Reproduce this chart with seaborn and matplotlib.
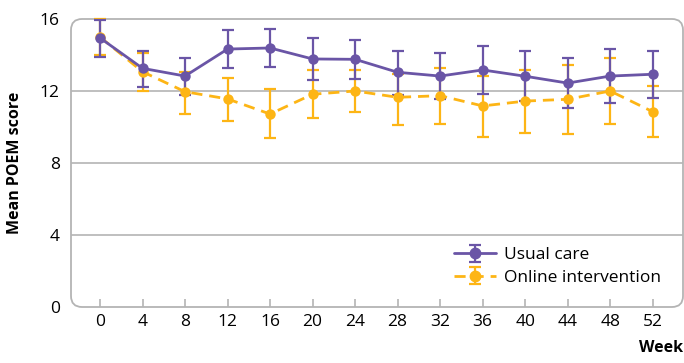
import numpy as np
import pandas as pd
import seaborn as sns
import matplotlib.pyplot as plt
from matplotlib.patches import FancyBboxPatch

weeks = [0, 4, 8, 12, 16, 20, 24, 28, 32, 36, 40, 44, 48, 52]

usual_mean = [14.95, 13.26, 12.83, 14.33, 14.39, 13.78, 13.76, 13.04, 12.83, 13.17, 12.82, 12.44, 12.83, 12.93]
usual_low = [13.9, 12.24, 11.78, 13.28, 13.33, 12.61, 12.68, 11.8, 11.57, 11.82, 11.43, 11.06, 11.35, 11.61]
usual_high = [15.94, 14.24, 13.83, 15.37, 15.46, 14.94, 14.83, 14.24, 14.13, 14.48, 14.22, 13.83, 14.35, 14.22]

online_mean = [15.0, 13.07, 11.96, 11.56, 10.72, 11.82, 12.0, 11.65, 11.74, 11.17, 11.44, 11.54, 12.0, 10.85]
online_low = [14.0, 12.02, 10.74, 10.35, 9.37, 10.48, 10.83, 10.13, 10.18, 9.46, 9.68, 9.63, 10.17, 9.43]
online_high = [16.0, 14.09, 13.06, 12.72, 12.09, 13.18, 13.15, 12.95, 13.28, 12.83, 13.17, 13.43, 13.83, 12.28]

purple = "#6a55a6"
orange = "#fdb515"
grey = "#b4b4b4"

df = pd.DataFrame({
    "week": weeks * 2,
    "score": usual_mean + online_mean,
    "group": ["Usual care"] * len(weeks) + ["Online intervention"] * len(weeks),
})

sns.set_style("white")
plt.rcParams["font.family"] = ["Open Sans", "DejaVu Sans"]
plt.rcParams["text.color"] = "black"
plt.rcParams["xtick.labelcolor"] = "black"
plt.rcParams["ytick.labelcolor"] = "black"
plt.rcParams["axes.labelcolor"] = "black"

fig = plt.figure(figsize=(6.84, 3.63), dpi=100)
ax = fig.add_axes([71 / 684, 56 / 363, 612 / 684, 288 / 363])

for y in [4, 8, 12]:
    ax.axhline(y, color=grey, lw=1.2, zorder=0)

# error bars
for mean, lo, hi, col in [(online_mean, online_low, online_high, orange),
                          (usual_mean, usual_low, usual_high, purple)]:
    m = np.array(mean)
    yerr = [m - np.array(lo), np.array(hi) - m]
    ax.errorbar(weeks, m, yerr=yerr, fmt="none", ecolor=col, elinewidth=1.6,
                capsize=4.5, capthick=1.6, clip_on=False, zorder=3)

sns.lineplot(data=df, x="week", y="score", hue="group", style="group",
             palette={"Usual care": purple, "Online intervention": orange},
             dashes={"Usual care": "", "Online intervention": (4, 2.5)},
             markers={"Usual care": "o", "Online intervention": "o"},
             markersize=7.5, markeredgewidth=0, linewidth=2,
             legend=False, ax=ax, zorder=4, clip_on=False,
             hue_order=["Online intervention", "Usual care"])

ax.set_xlim(-2.73, 54.85)
ax.set_ylim(0, 16)
ax.set_xticks(weeks)
ax.set_yticks([0, 4, 8, 12, 16])
ax.tick_params(axis="x", direction="in", length=6, width=1.2, color=grey,
               labelsize=12.5, pad=5, bottom=True)
ax.tick_params(axis="y", length=0, labelsize=12.5, pad=8)
ax.set_xlabel("")
ax.set_ylabel("Mean POEM score", fontsize=11.5, fontweight="bold", labelpad=12)
for s in ax.spines.values():
    s.set_visible(False)

# rounded frame
frame = FancyBboxPatch((0, 0), 1, 1, boxstyle="round,pad=0,rounding_size=0.018",
                       mutation_aspect=612 / 288, transform=ax.transAxes,
                       fill=False, edgecolor=grey, lw=1.3, clip_on=False, zorder=1)
ax.add_patch(frame)

# legend
h1 = ax.errorbar([np.nan], [np.nan], yerr=[1], fmt="-o", color=purple, ms=7.5,
                 lw=2, elinewidth=1.6, capsize=4.5, capthick=1.6)
h2 = ax.errorbar([np.nan], [np.nan], yerr=[1], fmt="--o", color=orange, ms=7.5,
                 lw=2, elinewidth=1.6, capsize=4.5, capthick=1.6, dashes=(4, 2.5))
ax.legend([h1, h2], ["Usual care", "Online intervention"], loc="lower right",
          bbox_to_anchor=(0.99, 0.02), frameon=False, fontsize=12.5,
          handlelength=2.4, handletextpad=0.5, labelspacing=0.35)

fig.text(0.998, 0.04, "Week", ha="right", va="center", fontsize=11.5,
         fontweight="bold")

fig.savefig("out.png", dpi=100)
